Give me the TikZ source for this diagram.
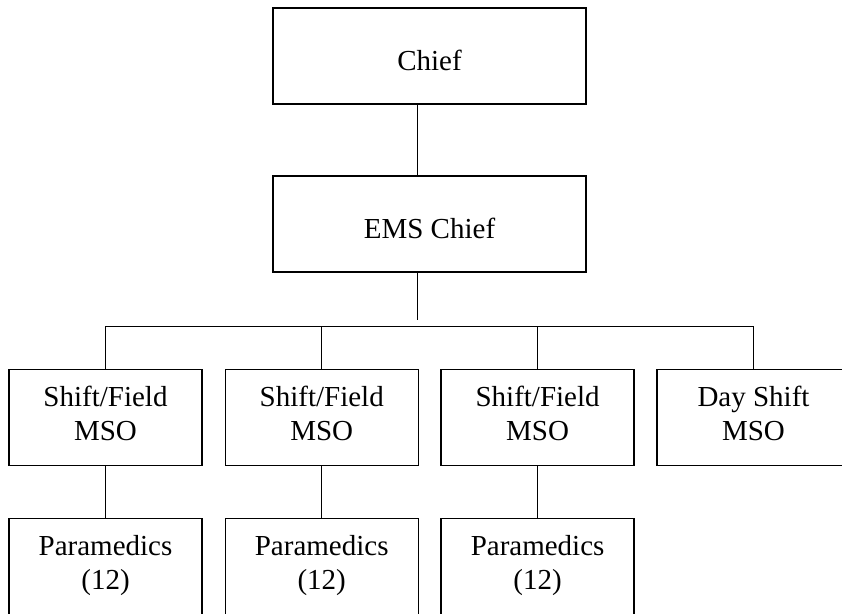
\documentclass[tikz,border=0pt]{standalone}
\usepackage{fontspec}
\setmainfont{Liberation Serif}
\begin{document}
\begin{tikzpicture}[x=1pt,y=-1pt,
  box/.style={draw, line width=1.4pt, rectangle, inner sep=0pt, minimum height=96pt},
  wide/.style={box, minimum width=313pt},
  narrow/.style={box, minimum width=193pt},
  txt/.style={anchor=base, inner sep=0pt, font=\fontsize{29}{33}\selectfont},
  conn/.style={line width=1pt}]
\useasboundingbox (0,0) rectangle (842,613);
\clip (0,0) rectangle (842,613);
% boxes
\node[wide] (chief) at (429.5,56) {};
\node[wide] (ems) at (429.5,224) {};
\node[narrow] (s1) at (105.5,417.3) {};
\node[narrow] (s2) at (321.7,417.3) {};
\node[narrow] (s3) at (537.6,417.3) {};
\node[narrow] (s4) at (753.5,417.3) {};
\node[narrow] (p1) at (105.5,566.3) {};
\node[narrow] (p2) at (321.7,566.3) {};
\node[narrow] (p3) at (537.6,566.3) {};
% texts
\node[txt] (tchief) at ([yshift=-14.7pt]chief.center) {Chief};
\node[txt] (tems) at ([yshift=-14.3pt]ems.center) {EMS Chief};
\foreach \b/\l in {s1/Shift\slash Field, s2/Shift\slash Field, s3/Shift\slash Field, s4/Day Shift}{
  \node[txt] (t\b a) at ([yshift=10.6pt]\b.center) {\l};
  \node[txt] (t\b b) at ([yshift=-22.7pt]\b.center) {MSO};
}
\foreach \b in {p1,p2,p3}{
  \node[txt] (t\b a) at ([yshift=11pt]\b.center) {Paramedics};
  \node[txt] (t\b b) at ([yshift=-23.5pt]\b.center) {(12)};
}
% connectors
\coordinate (bus) at (0,326.7);
\coordinate (emsend) at (0,320);
\draw[conn] ([xshift=-12.5pt]chief.south) -- ([xshift=-12.5pt]ems.north);
\draw[conn] ([xshift=-11.7pt]ems.south) -- ([xshift=-11.7pt]ems.south |- emsend);
\draw[conn] (s1.north) -- (s1.north |- bus) -- (s4.north |- bus) -- (s4.north);
\draw[conn] (s2.north) -- (s2.north |- bus);
\draw[conn] (s3.north) -- (s3.north |- bus);
\draw[conn] (s1.south) -- (p1.north);
\draw[conn] (s2.south) -- (p2.north);
\draw[conn] (s3.south) -- (p3.north);
\end{tikzpicture}
\end{document}
